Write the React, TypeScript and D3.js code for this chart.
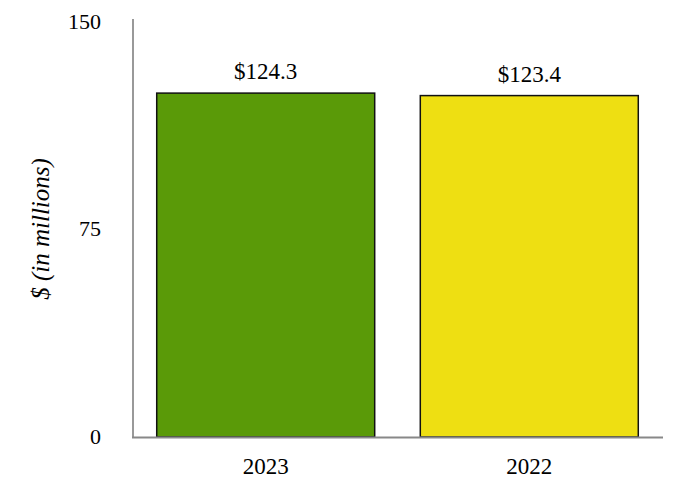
import React from "react";
import * as d3 from "d3";

const categories = ["2023", "2022"];
const values = [124.3, 123.4];
const valueLabels = ["$124.3", "$123.4"];
const colors = ["#5a9a08", "#eedf12"];
const yTicks = [0, 75, 150];

const W = 682;
const H = 500;

export default function App() {
  const x = d3.scaleBand<string>().domain(categories).range([133, 662]).paddingInner(0.173).paddingOuter(0.09);
  const y = d3.scaleLinear().domain([0, 150]).range([437, 22]);
  const fontStyle = { fontFamily: '"Liberation Serif", "Times New Roman", serif' };
  return (
    <svg width={W} height={H} style={{ position: "absolute", left: 0, top: 0, background: "#fff" }}>
      {categories.map((c, i) => (
        <g key={c}>
          <rect x={x(c)} y={y(values[i])} width={x.bandwidth()} height={y(0) - y(values[i])} fill={colors[i]} stroke="#111" strokeWidth={1.5} />
          <text style={fontStyle} x={(x(c) as number) + x.bandwidth() / 2} y={y(values[i]) - 14} textAnchor="middle" fontSize={23} fill="#000">{valueLabels[i]}</text>
          <text style={fontStyle} x={(x(c) as number) + x.bandwidth() / 2} y={473.5} textAnchor="middle" fontSize={23} fill="#000">{c}</text>
        </g>
      ))}
      <line x1={133} x2={133} y1={19} y2={438} stroke="#999" strokeWidth={2} />
      <line x1={132} x2={663} y1={437.5} y2={437.5} stroke="#888" strokeWidth={2} />
      {yTicks.map((t) => (
        <text key={t} style={fontStyle} x={101} y={y(t) + 6.5} textAnchor="end" fontSize={22} fill="#000">{t}</text>
      ))}
      <text style={fontStyle} transform={`translate(49,229) rotate(-90)`} textAnchor="middle" fontSize={25} fontStyle="italic" fill="#000">$ (in millions)</text>
    </svg>
  );
}
